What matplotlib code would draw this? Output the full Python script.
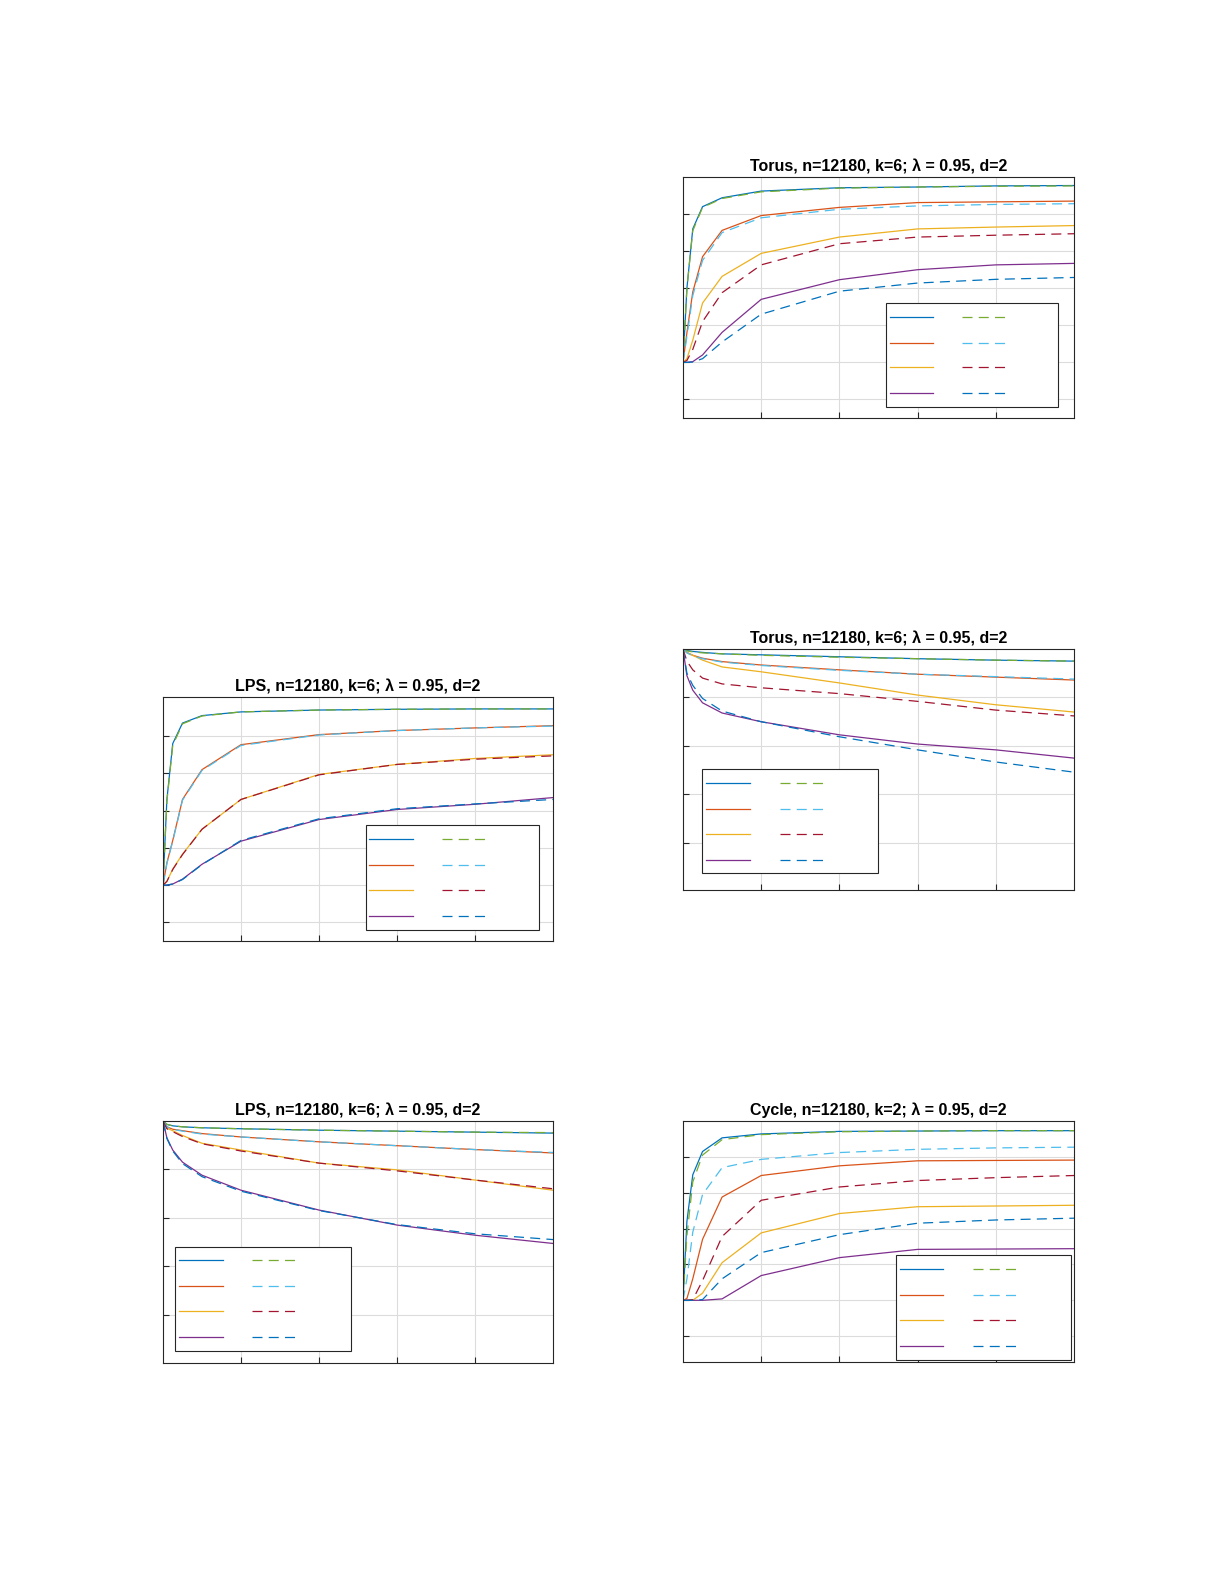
import numpy as np
import matplotlib
matplotlib.use('Agg')
from matplotlib import pyplot as plt
from matplotlib.patches import Rectangle

plt.rcParams['font.family'] = ['Liberation Sans', 'DejaVu Sans']

# common x samples (fraction of the run)
xs = [0, 0.01, 0.025, 0.05, 0.1, 0.2, 0.4, 0.6, 0.8, 1.0]

# MATLAB default palette: solid series and dashed predictions
solid_colors = ['#0072BD', '#D95319', '#EDB120', '#7E2F8E']
dash_colors = ['#77AC30', '#4DBEEE', '#A2142F', '#0072BD']

titles = ['Torus, n=12180, k=6; \u03bb = 0.95, d=2',
          'LPS, n=12180, k=6; \u03bb = 0.95, d=2',
          'Torus, n=12180, k=6; \u03bb = 0.95, d=2',
          'LPS, n=12180, k=6; \u03bb = 0.95, d=2',
          'Cycle, n=12180, k=2; \u03bb = 0.95, d=2']

torus_up_solid = [
    [1, 3.0, 4.6, 5.2, 5.44, 5.62, 5.71, 5.73, 5.76, 5.77],
    [1, 1.8, 2.9, 3.85, 4.56, 4.96, 5.18, 5.31, 5.33, 5.35],
    [1, 1.1, 1.6, 2.6, 3.32, 3.94, 4.38, 4.6, 4.65, 4.69],
    [1, 1.0, 1.02, 1.2, 1.81, 2.7, 3.23, 3.5, 3.63, 3.67]]
torus_up_dash = [
    [1, 3.0, 4.55, 5.18, 5.42, 5.6, 5.7, 5.73, 5.75, 5.76],
    [1, 1.7, 2.8, 3.75, 4.5, 4.9, 5.13, 5.22, 5.26, 5.28],
    [1, 1.05, 1.35, 2.1, 2.88, 3.63, 4.2, 4.38, 4.43, 4.47],
    [1, 1.0, 1.01, 1.1, 1.55, 2.3, 2.92, 3.14, 3.24, 3.29]]

lps_up_solid = [
    [1, 3.3, 4.8, 5.35, 5.55, 5.65, 5.7, 5.72, 5.73, 5.73],
    [1, 1.6, 2.2, 3.3, 4.1, 4.77, 5.04, 5.15, 5.22, 5.28],
    [1, 1.1, 1.43, 1.83, 2.5, 3.3, 3.97, 4.24, 4.4, 4.5],
    [1, 1.0, 1.03, 1.16, 1.56, 2.18, 2.76, 3.03, 3.17, 3.35]]
lps_up_dash = [
    [1, 3.25, 4.75, 5.33, 5.54, 5.65, 5.7, 5.72, 5.73, 5.73],
    [1, 1.58, 2.18, 3.28, 4.08, 4.75, 5.03, 5.15, 5.22, 5.27],
    [1, 1.1, 1.42, 1.82, 2.5, 3.3, 3.96, 4.24, 4.38, 4.47],
    [1, 1.0, 1.03, 1.15, 1.55, 2.2, 2.78, 3.05, 3.18, 3.3]]

torus_down_solid = [
    [5, 4.97, 4.95, 4.93, 4.9, 4.88, 4.84, 4.8, 4.77, 4.75],
    [5, 4.93, 4.87, 4.81, 4.74, 4.67, 4.57, 4.48, 4.42, 4.36],
    [5, 4.92, 4.87, 4.77, 4.63, 4.53, 4.3, 4.05, 3.85, 3.7],
    [5, 4.45, 4.15, 3.89, 3.68, 3.5, 3.23, 3.04, 2.92, 2.75]]
torus_down_dash = [
    [5, 4.96, 4.94, 4.92, 4.9, 4.87, 4.83, 4.8, 4.77, 4.75],
    [5, 4.92, 4.86, 4.8, 4.73, 4.66, 4.56, 4.48, 4.43, 4.38],
    [5, 4.75, 4.57, 4.4, 4.28, 4.2, 4.08, 3.92, 3.74, 3.62],
    [5, 4.5, 4.25, 3.98, 3.72, 3.5, 3.19, 2.92, 2.67, 2.46]]

lps_down_solid = [
    [5, 4.93, 4.9, 4.88, 4.86, 4.84, 4.81, 4.79, 4.77, 4.75],
    [5, 4.88, 4.83, 4.8, 4.74, 4.67, 4.57, 4.49, 4.41, 4.34],
    [5, 4.85, 4.8, 4.7, 4.54, 4.4, 4.13, 3.99, 3.78, 3.57],
    [5, 4.65, 4.4, 4.15, 3.88, 3.57, 3.16, 2.85, 2.64, 2.47]]
lps_down_dash = [
    [5, 4.93, 4.9, 4.88, 4.86, 4.84, 4.81, 4.79, 4.77, 4.76],
    [5, 4.88, 4.83, 4.79, 4.73, 4.67, 4.57, 4.49, 4.41, 4.35],
    [5, 4.84, 4.78, 4.68, 4.53, 4.38, 4.13, 3.97, 3.78, 3.6],
    [5, 4.64, 4.38, 4.12, 3.85, 3.55, 3.15, 2.86, 2.67, 2.55]]

cycle_solid = [
    [1, 3.2, 4.5, 5.15, 5.53, 5.64, 5.71, 5.72, 5.73, 5.73],
    [1, 1.05, 1.6, 2.7, 3.88, 4.48, 4.75, 4.89, 4.9, 4.91],
    [1, 1.0, 1.0, 1.2, 2.05, 2.88, 3.42, 3.61, 3.63, 3.65],
    [1, 1.0, 1.0, 1.0, 1.04, 1.69, 2.19, 2.42, 2.43, 2.44]]
cycle_dash = [
    [1, 2.8, 4.3, 5.05, 5.48, 5.62, 5.7, 5.72, 5.73, 5.73],
    [1, 1.6, 2.9, 3.95, 4.7, 4.93, 5.12, 5.21, 5.25, 5.27],
    [1, 1.0, 1.02, 1.55, 2.78, 3.79, 4.16, 4.34, 4.42, 4.48],
    [1, 1.0, 1.0, 1.02, 1.6, 2.33, 2.83, 3.15, 3.24, 3.29]]

W, H = 1225, 1585
# panel layout: axes box in pixels (left, bottom-edge y, width, height), ylim, yticks, legend box (axes frac)
panels = [
    ((683, 418, 391, 241), (-0.5, 6.0), range(0, 6), (0.52, 0.96, 0.046, 0.477), torus_up_solid, torus_up_dash),
    ((163, 941, 390, 244), (-0.5, 6.05), range(0, 6), (0.52, 0.965, 0.045, 0.475), lps_up_solid, lps_up_dash),
    ((683, 890, 391, 241), (0.03, 5.0), range(1, 5), (0.049, 0.499, 0.07, 0.50), torus_down_solid, torus_down_dash),
    ((163, 1363, 390, 242), (0.0, 5.0), range(1, 5), (0.031, 0.482, 0.05, 0.48), lps_down_solid, lps_down_dash),
    ((683, 1362, 391, 241), (-0.72, 6.0), range(0, 6), (0.545, 0.992, 0.008, 0.444), cycle_solid, cycle_dash),
]

fig = plt.figure(figsize=(W / 100, H / 100), dpi=100)

for (box, ylim, yt, leg, sol, das), title in zip(panels, titles):
    l, b, w, h = box
    ax = fig.add_axes([l / W, 1 - b / H, w / W, h / H])
    for ys, c in zip(sol, solid_colors):
        ax.plot(xs, ys, color=c, lw=0.9)
    for ys, c in zip(das, dash_colors):
        ax.plot(xs, ys, color=c, lw=0.9, ls=(0, (8, 5)))
    ax.set_xlim(0, 1)
    ax.set_ylim(*ylim)
    ax.set_xticks([0.2, 0.4, 0.6, 0.8])
    ax.set_yticks(list(yt))
    ax.set_xticklabels([])
    ax.set_yticklabels([])
    ax.tick_params(direction='in', length=4, color='#262626')
    ax.grid(True, color='#dcdcdc', lw=0.8)
    ax.set_axisbelow(True)
    for s in ax.spines.values():
        s.set_color('#262626')
        s.set_linewidth(0.8)
    ax.set_title(title, fontsize=11.5, fontweight='bold', pad=4)

    # legend box without text (as in the reference)
    x0, x1, y0, y1 = leg
    bw, bh = x1 - x0, y1 - y0
    ax.add_patch(Rectangle((x0, y0), bw, bh, transform=ax.transAxes,
                           facecolor='white', edgecolor='#262626', lw=0.8, zorder=5))
    rows = [0.87, 0.62, 0.38, 0.13]
    for r, cs, cd in zip(rows, solid_colors, dash_colors):
        yy = y0 + r * bh
        ax.plot([x0 + 0.02 * bw, x0 + 0.27 * bw], [yy, yy], color=cs, lw=0.9,
                transform=ax.transAxes, zorder=6)
        ax.plot([x0 + 0.44 * bw, x0 + 0.70 * bw], [yy, yy], color=cd, lw=0.9,
                ls=(0, (8, 5)), transform=ax.transAxes, zorder=6)

fig.savefig('out.png', dpi=100)
